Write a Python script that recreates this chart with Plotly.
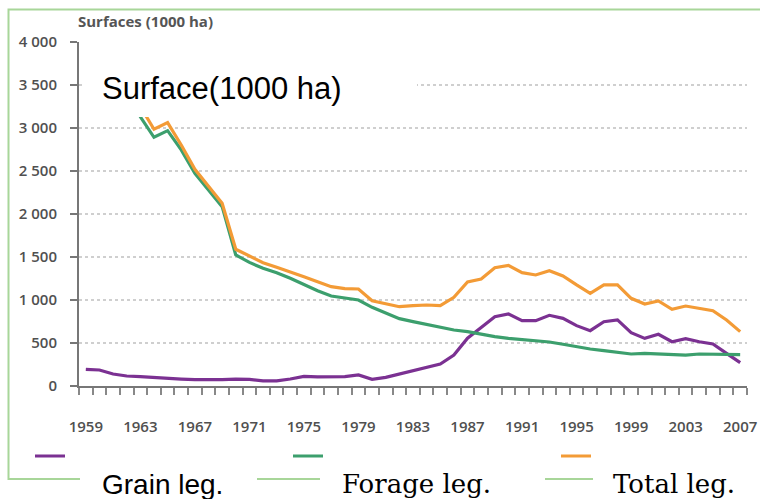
import plotly.graph_objects as go

years = list(range(1959, 2008))
grain = [194, 186, 140, 116, 108, 97, 89, 81, 74, 70,
         74, 81, 78, 60, 60, 81, 112, 105, 105, 110,
         128, 78, 101, 140, 178, 217, 256, 360, 555, 680,
         805, 837, 760, 760, 822, 787, 702, 643, 748, 768,
         620, 554, 601, 515, 550, 515, 488, 380, 271]
forage = [3700, 3680, 3650, 3500, 3130, 2892, 2969, 2745, 2474, 2280,
          2085, 1523, 1437, 1369, 1318, 1252, 1175, 1108, 1047, 1023,
          1000, 915, 853, 783, 748, 713, 683, 651, 632, 601,
          574, 554, 543, 527, 512, 485, 457, 430, 411, 392,
          372, 380, 372, 368, 360, 372, 368, 364, 364]
total = [3894, 3866, 3790, 3616, 3250, 2985, 3062, 2803, 2520, 2326,
         2125, 1590, 1510, 1434, 1380, 1330, 1271, 1213, 1155, 1132,
         1128, 992, 954, 922, 934, 942, 934, 1031, 1209, 1243,
         1375, 1403, 1318, 1291, 1341, 1279, 1175, 1078, 1175, 1175,
         1020, 954, 989, 892, 930, 903, 876, 768, 632]

x_label_years = list(range(1959, 2008, 4))
y_tick_vals = [0, 500, 1000, 1500, 2000, 2500, 3000, 3500, 4000]
y_tick_text = ["0", "500", "1 000", "1 500", "2 000", "2 500", "3 000", "3 500", "4 000"]

series_names = ["Grain leg.", "Forage leg.", "Total leg."]
series_colors = ["#7b3192", "#3c9f6d", "#f39b36"]

W, H = 760, 499
ML, MR, MT, MB = 79, 13, 42, 113
PW, PH = W - ML - MR, H - MT - MB


def px(xp):
    return (xp - ML) / PW


def py(yp):
    return (H - MB - yp) / PH


fig = go.Figure()
legends = ["legend", "legend2", "legend3"]
for vals, name, col, lg in zip([grain, forage, total], series_names, series_colors, legends):
    fig.add_trace(go.Scatter(x=years, y=vals, mode="lines", name=name,
                             line=dict(color=col, width=3.2), legend=lg))

tick_font = dict(family="Open Sans", size=15, color="#505050", weight=600)

fig.update_layout(
    width=W, height=H,
    margin=dict(l=ML, r=MR, t=MT, b=MB, autoexpand=False),
    paper_bgcolor="white", plot_bgcolor="white",
    showlegend=True,
    xaxis=dict(range=[1958.5, 2007.5], tickvals=x_label_years,
               ticktext=[str(y) for y in x_label_years],
               ticks="", showgrid=False, zeroline=False,
               showline=True, linecolor="#777777", linewidth=2,
               tickfont=tick_font, ticklabelstandoff=26,
               minor=dict(tickvals=[y - 0.5 for y in years] + [2007.5],
                          ticks="outside", ticklen=7, tickwidth=2,
                          tickcolor="#888888", showgrid=False)),
    yaxis=dict(range=[0, 4000], tickvals=y_tick_vals, ticktext=y_tick_text,
               ticks="outside", ticklen=7, tickwidth=2, tickcolor="#777777",
               showline=True, linecolor="#777777", linewidth=2,
               showgrid=True, gridcolor="#cfcfcf", griddash="dot", gridwidth=1.5,
               zeroline=False, tickfont=tick_font, ticklabelstandoff=10),
)

leg_common = dict(orientation="h", xanchor="left", yanchor="middle",
                  bgcolor="rgba(0,0,0,0)", borderwidth=0,
                  font=dict(size=11, color="rgba(0,0,0,0)"), itemwidth=30)
fig.update_layout(
    legend=dict(x=px(30), y=py(456), **leg_common),
    legend2=dict(x=px(288), y=py(456), **leg_common),
    legend3=dict(x=px(556), y=py(456), **leg_common),
)

shapes = [
    dict(type="rect", xref="paper", yref="paper", layer="below",
         x0=px(8.5), x1=px(790), y0=py(479), y1=py(9.5),
         line=dict(color="#a8d699", width=2), fillcolor="rgba(0,0,0,0)"),
    dict(type="rect", xref="paper", yref="paper", layer="above",
         x0=px(83), x1=px(417), y0=py(117), y1=py(43.5),
         line=dict(width=0), fillcolor="white"),
    dict(type="rect", xref="paper", yref="paper", layer="above",
         x0=px(80), x1=px(257), y0=py(510), y1=py(452),
         line=dict(width=0), fillcolor="white"),
    dict(type="rect", xref="paper", yref="paper", layer="above",
         x0=px(320), x1=px(545), y0=py(510), y1=py(452),
         line=dict(width=0), fillcolor="white"),
    dict(type="rect", xref="paper", yref="paper", layer="above",
         x0=px(593), x1=px(800), y0=py(510), y1=py(452),
         line=dict(width=0), fillcolor="white"),
]
fig.update_layout(shapes=shapes)

ann = [
    dict(text="Surfaces (1000 ha)", x=px(76), y=py(21),
         font=dict(family="Open Sans", size=15, color="#555555", weight="bold")),
    dict(text="Surface(1000 ha)", x=px(100), y=py(88),
         font=dict(family="Liberation Sans", size=31, color="black")),
    dict(text="Grain leg.", x=px(100), y=py(484),
         font=dict(family="Liberation Sans", size=28, color="black")),
    dict(text="Forage leg.", x=px(340), y=py(484),
         font=dict(family="DejaVu Serif", size=26, color="black")),
    dict(text="Total leg.", x=px(611), y=py(484),
         font=dict(family="DejaVu Serif", size=26, color="black")),
]
for a in ann:
    fig.add_annotation(xref="paper", yref="paper", xanchor="left", yanchor="middle",
                       showarrow=False, **a)

fig.write_html("out.html", config={"displayModeBar": False},
               post_script="document.body.style.margin='0';document.body.style.padding='0';")
